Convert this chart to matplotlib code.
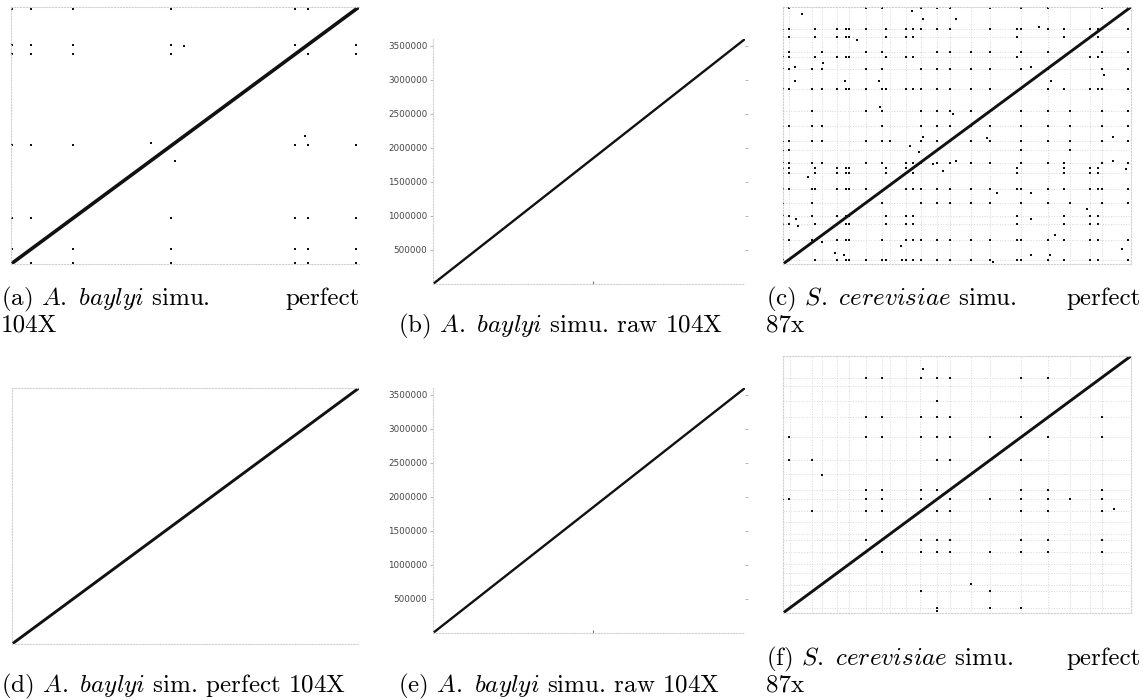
import matplotlib.pyplot as plt

plt.rcParams['mathtext.fontset'] = 'cm'

# ---- A. baylyi (panel a): repeat positions (Mb) and diagonal ----
ab_len = 3.6
ab_pos = [0.01, 0.21, 0.64, 1.66, 2.94, 3.07, 3.57]
ab_extra_x = [1.79, 1.45, 3.04, 1.70]
ab_extra_y = [3.05, 1.70, 1.80, 1.44]

# ---- A. baylyi raw (panels b, e) ----
raw_len = 3600000
raw_yticks = [500000, 1000000, 1500000, 2000000, 2500000, 3000000, 3500000]

# ---- S. cerevisiae (panel c): grid rows (Mb) and dot columns per row ----
sc_len = 12.1
sc_xgrid = [0.22, 1.02, 1.34, 1.87, 2.31, 2.89, 3.44, 3.71, 4.27, 4.81, 5.37, 5.81,
            6.54, 7.20, 8.28, 9.20, 9.99, 10.67, 11.08]
sc_ygrid = [0.19, 1.13, 1.88, 2.26, 2.86, 3.53, 4.27, 4.74, 5.37, 5.79, 6.50, 7.20,
            8.22, 9.18, 9.76, 9.97, 10.70, 11.06]
sc_rows = [12.04, 11.06, 10.70, 9.97, 9.76, 9.18, 8.22, 7.20, 6.50, 5.79, 5.37, 4.74,
           4.50, 4.27, 3.53, 2.86, 2.26, 1.88, 1.13, 0.19]
sc_row_cols = [
    [0.0, 0.22, 2.89, 3.44, 4.81, 5.37, 5.81, 7.20, 8.28, 9.20, 11.08, 12.01],
    [0.0, 0.22, 1.11, 1.87, 2.19, 2.31, 2.89, 3.58, 4.27, 4.51, 4.81, 5.37, 5.81, 7.20,
     8.15, 8.28, 9.20, 9.76, 10.67, 10.96, 12.01],
    [0.0, 0.22, 1.11, 1.87, 2.19, 2.31, 3.58, 4.27, 4.51, 8.15, 9.76, 10.96],
    [0.0, 0.22, 1.34, 2.89, 3.44, 5.37, 5.81, 6.54, 7.20, 8.28, 9.20, 11.08, 12.01],
    [0.0, 0.22, 1.11, 1.87, 2.19, 2.31, 3.58, 4.27, 4.51, 8.15, 10.67, 10.96],
    [0.0, 0.22, 1.02, 1.34, 2.89, 3.44, 4.81, 5.37, 5.81, 6.54, 7.20, 8.28, 9.20, 11.08, 12.01],
    [0.0, 0.22, 1.02, 1.34, 1.87, 2.19, 2.31, 2.89, 3.44, 3.58, 4.27, 4.51, 4.81, 5.37, 5.81,
     6.54, 7.20, 8.28, 9.20, 9.76, 10.67, 10.96, 11.08, 12.01],
    [0.0, 1.02, 2.89, 3.44, 4.81, 5.37, 5.81, 6.54, 7.20, 8.28, 9.20, 9.99, 11.08, 12.01],
    [0.0, 0.22, 1.02, 1.34, 3.44, 4.81, 5.37, 5.81, 6.54, 7.20, 8.28, 9.20, 9.99, 11.08, 12.01],
    [0.0, 0.22, 1.02, 1.34, 2.89, 3.44, 3.71, 4.81, 5.37, 5.81, 6.54, 7.20, 8.28, 9.20, 9.99,
     11.08, 12.01],
    [0.0, 0.22, 8.28, 9.99],
    [0.0, 0.22, 1.02, 1.34, 2.89, 3.44, 4.27, 4.51, 4.81, 5.37, 5.81, 6.54, 7.20, 8.28, 9.20,
     9.76, 11.08, 12.01],
    [0.0, 0.22, 1.11, 1.87, 2.19, 2.31, 3.58, 4.27, 8.15, 9.76, 10.67, 10.96],
    [0.0, 0.22, 1.11, 1.87, 2.19, 2.31, 3.58, 4.51, 8.15, 9.76, 10.67, 10.96],
    [0.0, 0.22, 1.02, 1.11, 1.87, 2.19, 2.31, 2.89, 4.27, 4.51, 4.81, 5.37, 5.81, 6.54, 7.20,
     8.15, 8.28, 9.20, 9.76, 10.67, 10.96, 11.08, 12.01],
    [0.0, 1.02, 2.89, 3.44, 4.81, 5.37, 5.81, 6.54, 7.20, 8.28, 9.20, 9.99, 11.08, 12.01],
    [0.0, 0.22, 1.02, 1.87, 2.19, 2.31, 3.58, 4.27, 4.51, 8.15, 9.76, 10.67, 10.96],
    [0.0, 0.22, 1.11, 1.87, 2.19, 2.31, 3.58, 4.27, 4.51, 8.15, 9.76, 10.67, 10.96],
    [0.0, 0.22, 1.02, 1.87, 2.19, 2.31, 3.44, 4.27, 4.51, 4.81, 5.37, 5.81, 6.54, 7.20, 8.15,
     8.28, 9.20, 9.76, 10.67, 10.96, 12.01],
    [0.0, 0.22, 1.11, 1.87, 2.19, 2.31, 2.89, 3.44, 3.58, 4.27, 4.51, 4.81, 5.37, 5.81, 6.54,
     7.20, 8.15, 8.28, 9.20, 9.76, 10.67, 10.96, 12.01],
]
sc_extra_x = [0.67, 4.47, 4.88, 6.00, 8.90, 2.58, 1.38, 0.43, 8.62, 11.16, 0.43, 2.14, 3.35,
              9.31, 3.37, 5.92, 4.88, 7.08, 11.49, 4.42, 4.74, 5.23, 6.00, 11.49, 5.55, 11.91,
              0.88, 7.43, 8.62, 10.56, 0.44, 8.62, 0.51, 1.34, 9.46, 4.10, 1.81, 2.13, 8.62,
              9.28, 11.77, 7.31, 4.13]
sc_extra_y = [11.77, 11.91, 11.52, 11.52, 11.17, 10.55, 9.45, 9.29, 9.29, 8.90, 8.63, 8.63,
              8.63, 8.63, 7.41, 7.06, 5.99, 5.95, 5.99, 5.57, 5.29, 4.71, 4.85, 4.87, 4.39,
              4.46, 4.08, 3.36, 3.36, 2.57, 2.12, 2.12, 1.79, 1.02, 1.37, 0.85, 0.50, 0.42,
              0.42, 0.42, 0.69, 0.11, 0.19]

# ---- S. cerevisiae (panel f) ----
sf_grid = [0.24, 1.02, 1.34, 1.87, 2.31, 2.88, 3.43, 3.71, 4.27, 4.78, 5.36, 5.80, 6.54,
           7.21, 8.28, 9.22, 9.99, 10.67, 11.08]
sf_rows = [11.08, 9.22, 8.28, 7.21, 5.80, 5.36, 4.78, 3.43, 2.88, 1.02, 0.24]
sf_row_cols = [
    [2.89, 3.44, 4.81, 5.37, 5.81, 8.28, 9.20],
    [2.89, 3.44, 4.81, 5.37, 5.81, 8.28, 11.08],
    [0.22, 2.89, 3.44, 4.81, 5.37, 5.81, 7.20, 9.20, 11.08],
    [0.22, 1.02, 5.37, 5.81, 8.28],
    [2.89, 3.44, 4.81, 5.37, 8.28, 9.20, 11.08],
    [0.0, 0.22, 2.89, 3.44, 4.81, 5.81, 7.20, 8.28, 9.20, 9.99, 11.08],
    [1.02, 2.89, 3.44, 4.81, 5.37, 5.81, 8.28, 9.20, 11.08],
    [2.89, 4.81, 5.37, 5.81, 8.28, 9.20, 11.08],
    [3.44, 4.81, 5.37, 5.81, 7.20, 8.28, 9.20, 11.08],
    [4.81, 7.20],
    [5.37, 7.20, 8.28],
]
sf_extra_x = [4.88, 5.37, 1.34, 11.51, 6.54, 5.37, 0.0]
sf_extra_y = [11.50, 10.00, 6.52, 4.89, 1.35, 0.08, 0.16]

captions = {
    'a': [r'(a) $\mathit{A.\ baylyi}$ simu.', 'perfect', '104X'],
    'b': [r'(b) $\mathit{A.\ baylyi}$ simu. raw 104X'],
    'c': [r'(c) $\mathit{S.\ cerevisiae}$ simu.', 'perfect', '87x'],
    'd': [r'(d) $\mathit{A.\ baylyi}$ sim. perfect 104X'],
    'e': [r'(e) $\mathit{A.\ baylyi}$ simu. raw 104X'],
    'f': [r'(f) $\mathit{S.\ cerevisiae}$ simu.', 'perfect', '87x'],
}

W, H = 1143, 700
fig = plt.figure(figsize=(W / 100, H / 100), dpi=100)


def add_ax(x0, y0, x1, y1):
    return fig.add_axes([x0 / W, 1 - y1 / H, (x1 - x0) / W, (y1 - y0) / H])


def dotted_frame(ax, sides=('left', 'top', 'bottom')):
    for s in ax.spines:
        ax.spines[s].set_visible(s in sides)
        ax.spines[s].set_linestyle(':')
        ax.spines[s].set_color('#d0d0d0')
        ax.spines[s].set_linewidth(0.8)


def plain(ax, lim):
    ax.set_xlim(0, lim)
    ax.set_ylim(0, lim)
    ax.set_xticks([])
    ax.set_yticks([])


def draw_ab(ax, dots=True):
    plain(ax, ab_len)
    dotted_frame(ax)
    if dots:
        for y in ab_pos:
            xs = [x for x in ab_pos if x != y]
            ax.plot(xs, [y] * len(xs), 's', color='#111111', ms=1.9, mew=0)
        ax.plot(ab_extra_x, ab_extra_y, 's', color='#111111', ms=1.9, mew=0)
    ax.plot([0, ab_len], [0, ab_len], color='#111111', lw=2.6 if dots else 2.1,
            solid_capstyle='round')


def draw_raw(ax):
    ax.set_xlim(0, raw_len)
    ax.set_ylim(0, raw_len)
    dotted_frame(ax, sides=('left', 'bottom'))
    ax.set_yticks(raw_yticks)
    ax.set_yticklabels([str(v) for v in raw_yticks])
    ax.set_xticks([1850000])
    ax.set_xticklabels([])
    ax.tick_params(axis='y', labelsize=6.3, labelcolor='#444444', length=2.5,
                   width=0.6, color='#aaaaaa', pad=1.5, right=True)
    ax.tick_params(axis='x', length=2, width=0.8, color='#777777', direction='in')
    ax.plot([0, raw_len], [0, raw_len], color='#111111', lw=1.7)


def draw_sc(ax, xgrid, ygrid, rows, row_cols, ex, ey, lw):
    plain(ax, sc_len)
    dotted_frame(ax, sides=('left', 'top', 'bottom', 'right'))
    for g in xgrid:
        ax.axvline(g, color='#d8d8d8', lw=0.7, ls=':', zorder=0)
    for g in ygrid:
        ax.axhline(g, color='#d8d8d8', lw=0.7, ls=':', zorder=0)
    for y, cols in zip(rows, row_cols):
        ax.plot(cols, [y] * len(cols), 's', color='#111111', ms=1.9, mew=0)
    ax.plot(ex, ey, 's', color='#111111', ms=1.9, mew=0)
    ax.plot([0, sc_len], [0, sc_len], color='#111111', lw=lw)


ax_a = add_ax(11, 7, 359, 264)
draw_ab(ax_a)
ax_b = add_ax(433, 39, 745, 284)
draw_raw(ax_b)
ax_c = add_ax(783, 7, 1131, 264)
draw_sc(ax_c, sc_xgrid, sc_ygrid, sc_rows, sc_row_cols, sc_extra_x, sc_extra_y, 2.1)
ax_d = add_ax(12, 388, 359, 644)
draw_ab(ax_d, dots=False)
ax_e = add_ax(433, 388, 745, 633)
draw_raw(ax_e)
ax_f = add_ax(783, 356, 1131, 613)
draw_sc(ax_f, sf_grid, sf_grid, sf_rows, sf_row_cols, sf_extra_x, sf_extra_y, 2.1)

cap_kw = dict(fontsize=18, family='cmr10', va='baseline', color='black')


def caption_two_lines(parts, x0, x1, y0, y1):
    fig.text(x0 / W, 1 - y0 / H, parts[0], ha='left', **cap_kw)
    fig.text(x1 / W, 1 - y0 / H, parts[1], ha='right', **cap_kw)
    fig.text(x0 / W, 1 - y1 / H, parts[2], ha='left', **cap_kw)


caption_two_lines(captions['a'], 1, 360, 305, 332)
fig.text(398 / W, 1 - 332 / H, captions['b'][0], ha='left', **cap_kw)
caption_two_lines(captions['c'], 766, 1141, 305, 332)
fig.text(1 / W, 1 - 692 / H, captions['d'][0], ha='left', **cap_kw)
fig.text(398 / W, 1 - 692 / H, captions['e'][0], ha='left', **cap_kw)
caption_two_lines(captions['f'], 766, 1141, 665, 692)

fig.savefig('out.png', dpi=100)
